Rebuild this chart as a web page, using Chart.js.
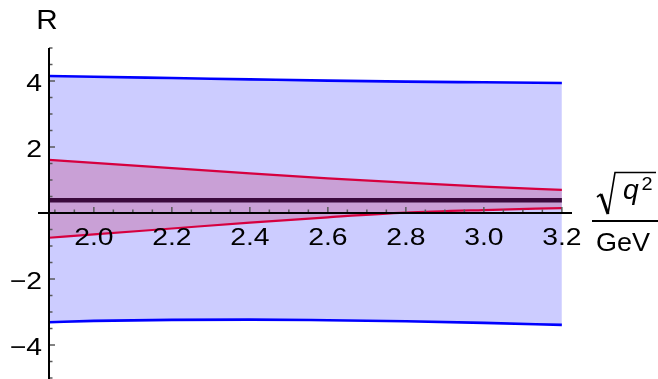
<!DOCTYPE html>
<html>
<head>
<meta charset="utf-8">
<script src="https://cdn.jsdelivr.net/npm/chart.js@4.4.1/dist/chart.umd.min.js"></script>
<style>
  html, body { margin: 0; padding: 0; background: #ffffff; }
  #wrap { width: 658px; height: 379px; position: relative; }
</style>
</head>
<body>
<div id="wrap"><canvas id="chart" width="658" height="379"></canvas></div>
<script>
// sqrt(q^2) in GeV
const energies   = [1.885, 2.0, 2.2, 2.4, 2.6, 2.8, 3.0, 3.2];
// outer band (blue)
const outerUpper = [4.15, 4.13, 4.09, 4.05, 4.01, 3.98, 3.96, 3.94];
const outerLower = [-3.31, -3.27, -3.24, -3.23, -3.25, -3.28, -3.33, -3.39];
// inner band (red)
const innerUpper = [1.61, 1.52, 1.36, 1.20, 1.05, 0.92, 0.80, 0.70];
const innerLower = [-0.75, -0.65, -0.47, -0.29, -0.13, 0.01, 0.09, 0.15];
// central value
const central    = [0.39, 0.39, 0.39, 0.39, 0.39, 0.39, 0.39, 0.39];

// axis ticks
const xTickLabels = ['2.0', '2.2', '2.4', '2.6', '2.8', '3.0', '3.2'];
const yTickLabels = ['\u22124', '\u22122', '2', '4'];
const yTickValues = [-4, -2, 2, 4];

const pts = (ys) => energies.map((x, i) => ({ x: x, y: ys[i] }));

const FONT = '"Liberation Sans", Arial, sans-serif';

function stretchedText(ctx, str, x, y, opts) {
  ctx.save();
  ctx.font = opts.font;
  ctx.fillStyle = opts.color || '#000';
  ctx.textAlign = opts.align || 'center';
  ctx.textBaseline = opts.baseline || 'middle';
  ctx.translate(x, y);
  ctx.scale(opts.sx || 1, 1);
  ctx.fillText(str, 0, 0);
  ctx.restore();
}

const axesPlugin = {
  id: 'crossAxes',
  beforeDraw(chart) {
    const ctx = chart.ctx;
    ctx.save();
    ctx.fillStyle = '#ffffff';
    ctx.fillRect(0, 0, chart.width, chart.height);
    ctx.restore();
  },
  afterDatasetsDraw(chart) {
    const ctx = chart.ctx;
    const xs = chart.scales.x, ys = chart.scales.y;
    const x0 = xs.left;
    const y0 = ys.getPixelForValue(0);

    ctx.save();
    // ticks on x axis (pointing up)
    ctx.strokeStyle = '#5a5a5a';
    ctx.lineWidth = 1.5;
    for (let k = 38; k <= 64; k++) {
      const v = k * 0.05;
      const px = xs.getPixelForValue(v);
      const major = (k % 4 === 0);
      ctx.beginPath();
      ctx.moveTo(px, y0);
      ctx.lineTo(px, y0 - (major ? 6 : 3.5));
      ctx.stroke();
    }
    // ticks on y axis (pointing right)
    for (let k = -10; k <= 10; k++) {
      if (k === 0) continue;
      const v = k * 0.5;
      const py = ys.getPixelForValue(v);
      const major = (k % 4 === 0);
      ctx.beginPath();
      ctx.moveTo(x0, py);
      ctx.lineTo(x0 + (major ? 6 : 3.5), py);
      ctx.stroke();
    }

    // axis lines
    ctx.strokeStyle = '#000';
    ctx.lineWidth = 2;
    ctx.beginPath();
    ctx.moveTo(x0 - 11, y0);
    ctx.lineTo(xs.right, y0);
    ctx.stroke();
    ctx.beginPath();
    ctx.moveTo(x0, ys.top);
    ctx.lineTo(x0, chart.height);
    ctx.stroke();

    // tick labels
    xTickLabels.forEach((lab) => {
      const px = xs.getPixelForValue(parseFloat(lab));
      stretchedText(ctx, lab, px, y0 + 25, { font: '24px ' + FONT, sx: 1.18 });
    });
    yTickValues.forEach((v, i) => {
      const py = ys.getPixelForValue(v);
      stretchedText(ctx, yTickLabels[i], x0 - 7, py + 3, { font: '24px ' + FONT, sx: 1.18, align: 'right' });
    });

    // axis labels
    stretchedText(ctx, 'R', x0 - 2, 22, { font: '27px ' + FONT, sx: 1.1 });

    // sqrt(q^2) / GeV
    ctx.strokeStyle = '#000';
    ctx.lineWidth = 1.6;
    ctx.beginPath();
    ctx.moveTo(597, 197);
    ctx.lineTo(601, 194);
    ctx.stroke();
    ctx.lineWidth = 3;
    ctx.beginPath();
    ctx.moveTo(601, 194);
    ctx.lineTo(608, 214);
    ctx.stroke();
    ctx.lineWidth = 1.6;
    ctx.beginPath();
    ctx.moveTo(608, 214);
    ctx.lineTo(615, 172.5);
    ctx.lineTo(656, 172.5);
    ctx.stroke();
    stretchedText(ctx, 'q', 631, 199, { font: 'italic 27px ' + FONT, sx: 1.05, baseline: 'alphabetic' });
    stretchedText(ctx, '2', 647, 190, { font: '19px ' + FONT, sx: 1.05, baseline: 'alphabetic' });
    ctx.lineWidth = 2;
    ctx.beginPath();
    ctx.moveTo(592, 221);
    ctx.lineTo(658, 221);
    ctx.stroke();
    stretchedText(ctx, 'GeV', 623, 244, { font: '25px ' + FONT, sx: 1.08 });
    ctx.restore();
  }
};

new Chart(document.getElementById('chart'), {
  type: 'line',
  data: {
    datasets: [
      { data: pts(central), borderColor: '#3a0a3c', borderWidth: 4.5, fill: false },
      { data: pts(innerUpper), borderColor: '#d6003f', borderWidth: 2.2, fill: '+1', backgroundColor: 'rgb(201,160,214)' },
      { data: pts(innerLower), borderColor: '#d6003f', borderWidth: 2.2, fill: false },
      { data: pts(outerUpper), borderColor: '#0000ff', borderWidth: 2.6, fill: '+1', backgroundColor: '#ccccff' },
      { data: pts(outerLower), borderColor: '#0000ff', borderWidth: 2.6, fill: false }
    ]
  },
  options: {
    responsive: false,
    animation: false,
    devicePixelRatio: 1,
    layout: { padding: { left: 49, right: 86, top: 48, bottom: 1 } },
    elements: {
      point: { radius: 0, hoverRadius: 0 },
      line: { tension: 0.4, cubicInterpolationMode: 'monotone', borderCapStyle: 'butt' }
    },
    scales: {
      x: { type: 'linear', min: 1.885, max: 3.226, display: false },
      y: { type: 'linear', min: -5, max: 5, display: false }
    },
    plugins: {
      legend: { display: false },
      tooltip: { enabled: false },
      filler: { drawTime: 'beforeDatasetsDraw' }
    }
  },
  plugins: [axesPlugin]
});
</script>
</body>
</html>
